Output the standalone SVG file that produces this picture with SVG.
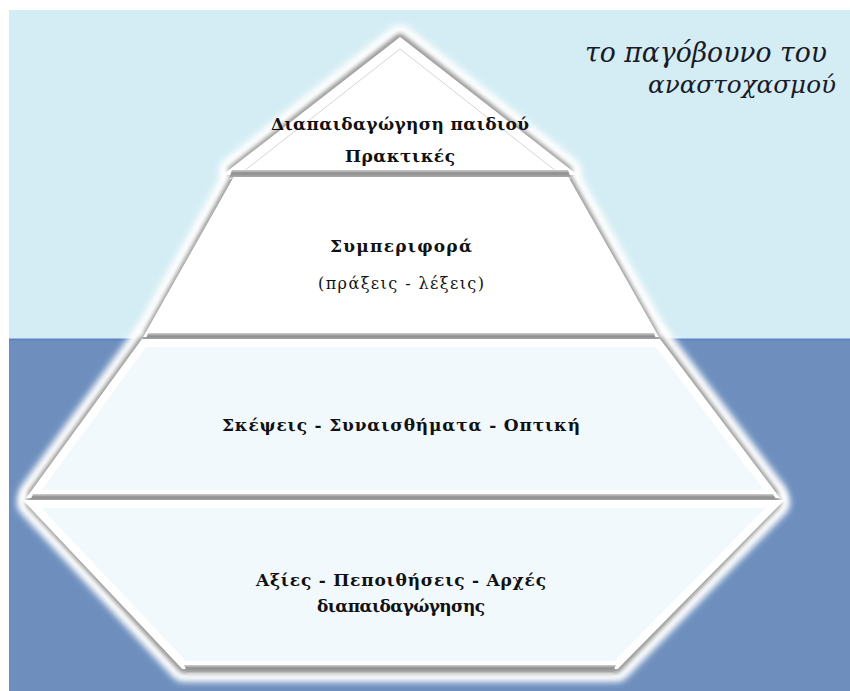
<svg xmlns="http://www.w3.org/2000/svg" width="850" height="691" viewBox="0 0 850 691">
  <style>
    .glow { fill: none; stroke: #ffffff; stroke-width: 30; stroke-linejoin: round; filter: url(#blur3); }
    .shade { fill: none; stroke: #9a9a9a; stroke-width: 13; stroke-linejoin: round; filter: url(#blur2); }
    .rim { stroke: #ffffff; stroke-width: 8; stroke-linejoin: miter; }
    .inner { fill: none; stroke: #d6d6d6; stroke-width: 1; }
    .fillw { fill: #ffffff; }
    .fillb { fill: #f2f9fc; }
    .band { fill: url(#bandGrad); }
    .lbl { font-family: "DejaVu Serif", "Liberation Serif", serif; font-weight: bold; font-size: 17px; fill: #111111; text-anchor: middle; }
    .lblr { font-family: "DejaVu Serif", "Liberation Serif", serif; font-size: 16px; fill: #111111; text-anchor: middle; }
    .title { font-family: "DejaVu Serif", "Liberation Serif", serif; font-style: italic; font-size: 27px; fill: #1a1a28; }
  </style>
  <defs>
    <filter id="blur3" x="-20%" y="-20%" width="140%" height="140%"><feGaussianBlur stdDeviation="3"/></filter>
    <filter id="blur2" x="-20%" y="-20%" width="140%" height="140%"><feGaussianBlur stdDeviation="2"/></filter>
    <linearGradient id="bandGrad" x1="0" y1="0" x2="0" y2="1">
      <stop offset="0" stop-color="#d0d0d0"/>
      <stop offset="0.35" stop-color="#8e8e8e"/>
      <stop offset="0.75" stop-color="#a8a8a8"/>
      <stop offset="1" stop-color="#e8e8e8"/>
    </linearGradient>
  </defs>

  <!-- background -->
  <rect x="0" y="0" width="850" height="691" fill="#ffffff"/>
  <rect x="9" y="10" width="841" height="330" fill="#d4edf4"/>
  <rect x="9" y="339" width="841" height="352" fill="#6e8fbe"/>
  <line x1="9" y1="339.5" x2="850" y2="339.5" stroke="#5a84c4" stroke-width="2"/>

  <!-- halo and bevel shading -->
  <g id="halo">
    <polygon class="glow" points="400,40 566,171 234,171"/>
    <polygon class="glow" points="236,180 566,180 652,334 150,334"/>
    <polygon class="glow" points="144,342 658,342 772,494 34,494"/>
    <polygon class="glow" points="32,503 775,503 616,667 184,667"/>
    <polygon class="shade" points="400,40 566,171 234,171"/>
    <polygon class="shade" points="236,180 566,180 652,334 150,334"/>
    <polygon class="shade" points="144,342 658,342 772,494 34,494"/>
    <polygon class="shade" points="32,503 775,503 616,667 184,667"/>
  </g>

  <g id="node-top">
    <polygon class="fillw rim" points="400,42 566,171 234,171"/>
    <polygon class="inner" points="400,49 556,171 244,171"/>
    <polygon class="band" points="232,170 568,170 571,179 229,179"/>
    <text class="lbl" x="400" y="130" textLength="258" lengthAdjust="spacing">Διαπαιδαγώγηση παιδιού</text>
    <text class="lbl" x="400" y="162" textLength="110" lengthAdjust="spacing">Πρακτικές</text>
  </g>

  <g id="node-behaviour">
    <polygon class="fillw rim" points="236,181 566,181 652,333 150,333"/>
    <polygon class="band" points="148,333 654,333 657,342 145,342"/>
    <text class="lbl" x="401" y="252" textLength="142" lengthAdjust="spacing">Συμπεριφορά</text>
    <text class="lblr" x="401" y="289" textLength="166" lengthAdjust="spacing">(πράξεις - λέξεις)</text>
  </g>

  <g id="node-thoughts">
    <polygon class="fillb rim" points="144,343 658,343 772,494 34,494"/>
    <polygon class="band" points="33,494 773,494 778,503 29,503"/>
    <text class="lbl" x="401" y="431" textLength="358" lengthAdjust="spacing">Σκέψεις - Συναισθήματα - Οπτική</text>
  </g>

  <g id="node-values">
    <polygon class="fillb rim" points="32,504 775,504 616,665 184,665"/>
    <polygon class="band" points="184,665 616,665 612,674 188,674"/>
    <text class="lbl" x="401" y="586" textLength="290" lengthAdjust="spacing">Αξίες - Πεποιθήσεις - Αρχές</text>
    <text class="lbl" x="401" y="612" textLength="168" lengthAdjust="spacing">διαπαιδαγώγησης</text>
  </g>

  <g id="title">
    <text class="title" x="585" y="62" textLength="242" lengthAdjust="spacingAndGlyphs">το παγόβουνο του</text>
    <text class="title" x="648" y="93" style="font-size:24px" textLength="188" lengthAdjust="spacingAndGlyphs">αναστοχασμού</text>
  </g>
</svg>
